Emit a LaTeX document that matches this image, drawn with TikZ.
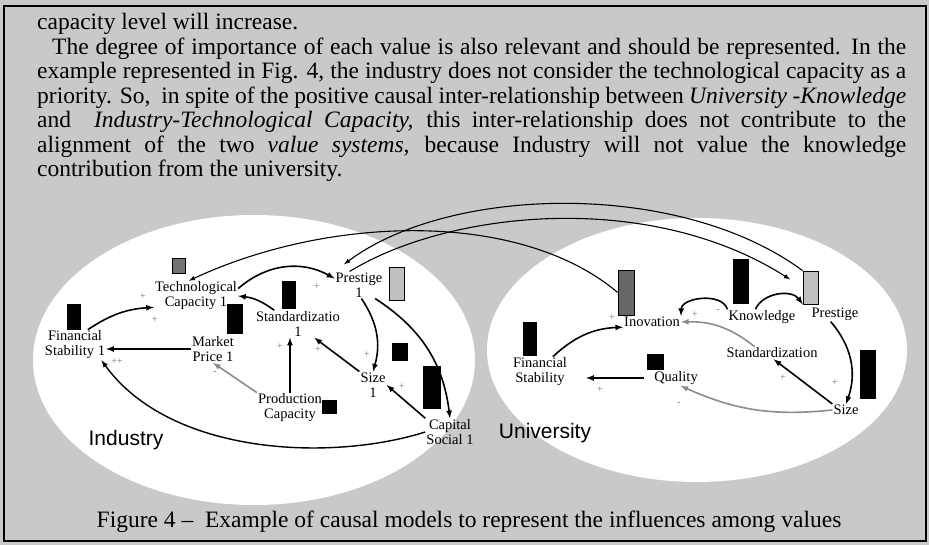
\documentclass[tikz,border=0pt]{standalone}
\usepackage{fontspec}
\setmainfont{Liberation Serif}
\setsansfont{Liberation Sans}
\definecolor{paper}{RGB}{201,201,201}
\begin{document}
\begin{tikzpicture}[x=1pt,y=-1pt,>=latex,
  txt/.style={anchor=base west,inner sep=0pt,font=\fontsize{23.5}{24.5}\selectfont},
  lbl/.style={font=\fontsize{14.5}{15}\selectfont,align=center,inner sep=1pt},
  sans/.style={font=\sffamily\fontsize{21}{21}\selectfont,inner sep=0pt},
  bar/.style={draw,fill=black,inner sep=0pt,line width=0.6pt},
  sgn/.style={font=\fontsize{10}{10}\selectfont,text=black!55,inner sep=0pt},
  arr/.style={->,line width=1.6pt},
  garr/.style={->,line width=1.6pt,draw=black!45},
  long/.style={->,line width=1.1pt}]
\fill[paper] (0,0) rectangle (929,545);
\draw[line width=1.6pt] (4,6) rectangle (926,541);
\fill[white] (254,360) ellipse [x radius=221,y radius=145];
\fill[white] (697,350) ellipse [x radius=210,y radius=132];

\node[txt] (l1) at (37,30) {capacity level will increase.};
\node[txt] (l2) at (52,54.5) {\makebox[854pt][s]{The degree of importance of each value is also relevant and should be represented. In the}};
\node[txt] (l3) at (37,79) {\makebox[869pt][s]{example represented in Fig. 4, the industry does not consider the technological capacity as a}};
\node[txt] (l4) at (37,103.5) {\makebox[869pt][s]{priority. So,\ \ in spite of the positive causal inter-relationship between \textit{University -Knowledge}}};
\node[txt] (l5) at (37,128) {\makebox[869pt][s]{and\ \ \textit{Industry-Technological Capacity,} this inter-relationship does not contribute to the}};
\node[txt] (l6) at (37,152.5) {\makebox[869pt][s]{alignment of the two \textit{value systems}, because Industry will not value the knowledge}};
\node[txt] (l7) at (37,177) {contribution from the university.};
\node[txt,anchor=base] (cap) at (469,527) {Figure 4 –\ \ Example of causal models to represent the influences among values};

\node[bar,fill=black!55,minimum width=13pt,minimum height=15pt] (qTc1) at (178.5,265.5) {};
\node[bar,minimum width=13pt,minimum height=25pt] (bFs1) at (73.5,316.5) {};
\node[bar,minimum width=15pt,minimum height=29pt] (bMp1) at (234.5,318.5) {};
\node[bar,minimum width=13pt,minimum height=27pt] (bSt1) at (288.5,294.5) {};
\node[bar,fill=black!25,minimum width=15pt,minimum height=33pt] (bPr1) at (396.5,283.5) {};
\node[bar,minimum width=15pt,minimum height=17pt] (qSz1) at (399.5,351.5) {};
\node[bar,minimum width=14pt,minimum height=13pt] (qPc1) at (329,406.5) {};
\node[bar,minimum width=17pt,minimum height=42pt] (bCs1) at (431.5,387) {};

\node[lbl] (tc1) at (196,296) {Technological\\Capacity 1};
\node[lbl] (fs1) at (75,345) {Financial\\Stability 1};
\node[lbl] (mp1) at (213,349) {Market\\Price 1};
\node[lbl] (st1) at (298,324) {Standardizatio\\1};
\node[lbl] (pr1) at (359,285) {Prestige\\1};
\node[lbl] (sz1) at (373,385) {Size\\1};
\node[lbl] (pc1) at (290,408) {Production\\Capacity};
\node[lbl] (cs1) at (450,432) {Capital\\Social 1};
\node[sans] (ind) at (126,440) {Industry};

\node[sgn] (sa1) at (143,297) {+};
\node[sgn] (sa2) at (155,320) {+};
\node[sgn] (sa3) at (117,362) {++};
\node[sgn] (sa4) at (317,287) {+};
\node[sgn] (sa5) at (280,347) {+};
\node[sgn] (sa6) at (318,350) {+};
\node[sgn] (sa7) at (215,373) {-};
\node[sgn] (sa8) at (367,355) {+};
\node[sgn] (sa9) at (402,387) {+};

\draw[arr] (fs1.50) to[bend left=15] (tc1.195);
\draw[arr] (mp1.west) -- (fs1.east |- mp1.west);
\draw[arr] (st1.150) to[bend right=15] (tc1.east);
\draw[arr] (tc1.10) to[bend left=35] (pr1.165);
\draw[arr] (pc1.north) -- (pc1.north |- st1.south);
\draw[garr] (pc1.north west) -- (mp1.south);
\draw[arr] (sz1.north west) -- (st1.-40);
\draw[arr] (pr1.-80) to[bend left=25] (sz1.north);
\draw[arr] (pr1.-40) to[bend left=25] (cs1.north);
\draw[arr] (cs1.north west) -- (sz1.east);
\draw[arr,line width=1.4pt] (cs1.west) .. controls (330,462) and (170,455) .. (fs1.-30);

\node[bar,fill=black!60,minimum width=16pt,minimum height=45pt] (bInv) at (626,292.5) {};
\node[bar,minimum width=15pt,minimum height=44pt] (bKn) at (740.5,281) {};
\node[bar,fill=black!25,minimum width=15pt,minimum height=33pt] (bPru) at (810.5,287.5) {};
\node[bar,minimum width=13pt,minimum height=33pt] (bFs2) at (529.5,338.5) {};
\node[bar,minimum width=16pt,minimum height=15pt] (qQl) at (655,361.5) {};
\node[bar,minimum width=15pt,minimum height=48pt] (bSz2) at (867.5,374) {};

\node[lbl] (inv) at (652,322) {Inovation};
\node[lbl] (kn) at (762,317) {Knowledge};
\node[lbl] (pru) at (835,314) {Prestige};
\node[lbl] (fs2) at (540,372) {Financial\\Stability};
\node[lbl] (ql) at (676,378) {Quality};
\node[lbl] (st2) at (772,353) {Standardization};
\node[lbl] (sz2) at (846,410) {Size};
\node[sans] (uni) at (545,433) {University};

\node[sgn] (sb1) at (612,318) {+};
\node[sgn] (sb2) at (695,315) {+};
\node[sgn] (sb3) at (718,311) {-};
\node[sgn] (sb4) at (600,390) {+};
\node[sgn] (sb5) at (783,378) {+};
\node[sgn] (sb6) at (835,383) {+};
\node[sgn] (sb7) at (679,404) {-};

\draw[arr] (fs2.50) to[bend left=20] (inv.190);
\draw[arr,shorten <=9pt,shorten >=18pt] (ql.west) -- (fs2.east |- ql.west);
\draw[arr] (kn.north west) to[bend right=80] (inv.north east);
\draw[arr] (kn.130) to[bend left=60] (bPru.south west);
\draw[garr] (st2.160) to[bend right=20] (inv.east);
\draw[arr] (pru.-120) to[bend left=30] (sz2.north);
\draw[arr] (sz2.north west) -- (st2.-75);
\draw[garr] (sz2.west) to[bend left=15] (ql.-60);

\draw[long] (bInv.west) .. controls (520,210) and (330,215) .. (tc1.115);
\draw[long,shorten >=15pt] (pr1.125) .. controls (450,210) and (650,190) .. (bPru.west);
\draw[long,shorten >=12pt] (bPru.north west) .. controls (680,180) and (450,185) .. (pr1.north west);
\end{tikzpicture}
\end{document}
